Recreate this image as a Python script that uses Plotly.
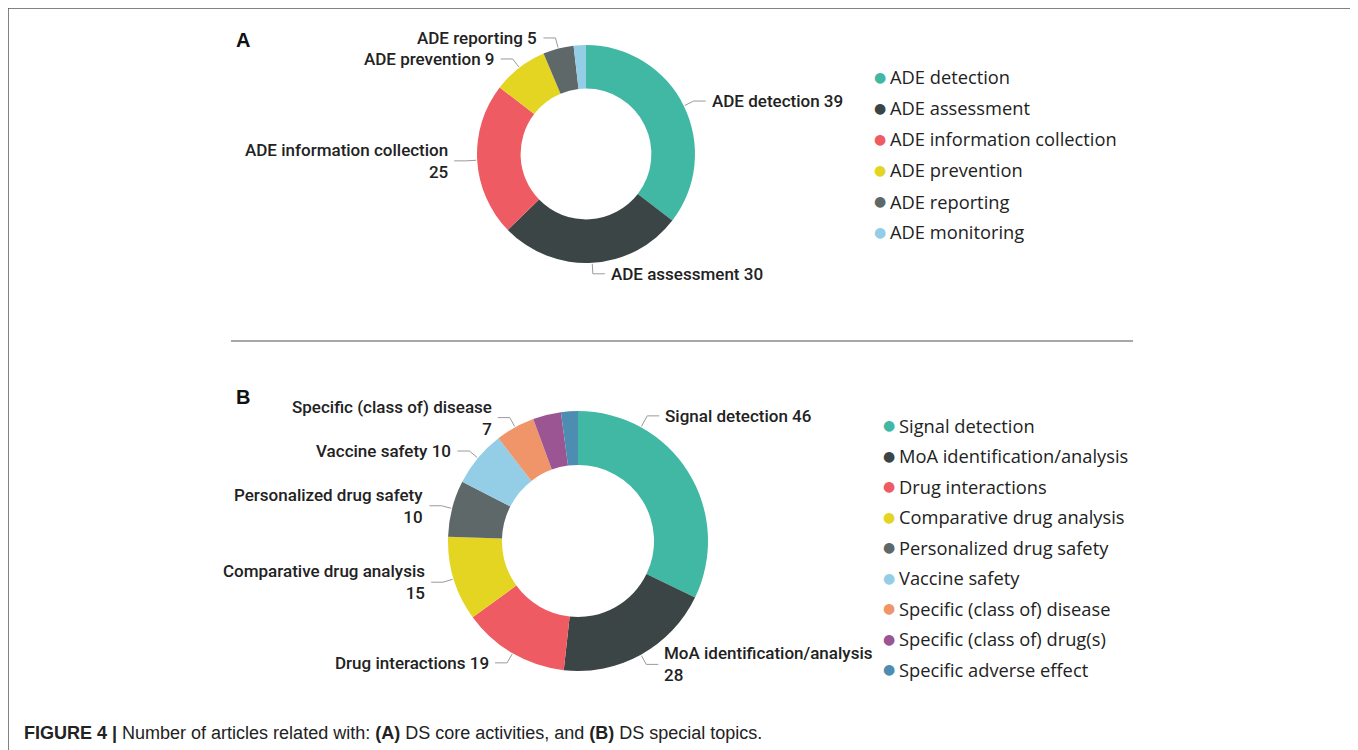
import math
import plotly.graph_objects as go

# ---------------- data ----------------
a_labels = ["ADE detection", "ADE assessment", "ADE information collection",
            "ADE prevention", "ADE reporting", "ADE monitoring"]
a_values = [39, 30, 25, 9, 5, 2]
a_colors = ["#40b8a4", "#3c4546", "#ef5b62", "#e4d523", "#5f6869", "#94cde6"]

b_labels = ["Signal detection", "MoA identification/analysis", "Drug interactions",
            "Comparative drug analysis", "Personalized drug safety", "Vaccine safety",
            "Specific (class of) disease", "Specific (class of) drug(s)",
            "Specific adverse effect"]
b_values = [46, 28, 19, 15, 10, 10, 7, 5, 3]
b_colors = ["#40b8a4", "#3c4546", "#ef5b62", "#e4d523", "#5f6869", "#94cde6",
            "#f0956a", "#9b5593", "#4c8db1"]

caption_bold = "FIGURE 4 |"
caption_text = " Number of articles related with: <b>(A)</b> DS core activities, and <b>(B)</b> DS special topics."

# ---------------- layout helpers ----------------
W, H = 1358, 750
OFF = 8  # page body margin
def px(x):
    return (x - OFF) / W
def py(y):
    return 1 - (y - OFF) / H

wrapped = {"ADE information collection", "Specific (class of) disease",
           "Personalized drug safety", "Comparative drug analysis",
           "MoA identification/analysis"}
anchor_frac = {"Signal detection": 0.25}

LABEL_FONT = dict(family="Roboto, DejaVu Sans", size=17, color="#222222", weight=500)
LEGEND_FONT = dict(family="Open Sans, Noto Sans, DejaVu Sans", size=18.3, color="#222222")

fig = go.Figure()
shapes = []
annotations = []

def add_donut(labels, values, colors, cx, cy, r, hole, min_label, legend_x, legend_y0, legend_dy):
    fig.add_trace(go.Pie(
        labels=labels, values=values, sort=False, direction="clockwise", rotation=0,
        hole=hole, marker=dict(colors=colors, line=dict(width=0)),
        textinfo="none", showlegend=False, hoverinfo="label+value",
        domain=dict(x=[px(cx - r), px(cx + r)], y=[py(cy + r), py(cy - r)]),
    ))
    total = sum(values)
    cum = 0
    for lab, v in zip(labels, values):
        start = cum / total * 360
        frac = anchor_frac.get(lab, 0.5)
        ang = math.radians(start + frac * v / total * 360)
        cum += v
        if v < min_label:
            continue
        s, c = math.sin(ang), math.cos(ang)
        x0, y0 = cx + (r + 1) * s, cy - (r + 1) * c
        ext = 13 if lab in anchor_frac else 11
        x1, y1 = cx + (r + ext) * s, cy - (r + ext) * c
        right = s >= 0
        x2 = x1 + (12 if right else -12)
        shapes.append(dict(type="path", xref="paper", yref="paper",
                           path=f"M {px(x0)},{py(y0)} L {px(x1)},{py(y1)} L {px(x2)},{py(y1)}",
                           line=dict(color="#9a9a9a", width=1)))
        text = f"{lab}<br>{v}" if lab in wrapped else f"{lab} {v}"
        annotations.append(dict(
            x=px(x2 + (4 if right else -4)), y=py(y1), xref="paper", yref="paper",
            text=text, showarrow=False, xanchor="left" if right else "right",
            yanchor="middle", align="left" if right else "right", font=LABEL_FONT))
    # legend
    for i, (lab, col) in enumerate(zip(labels, colors)):
        yy = legend_y0 + i * legend_dy
        annotations.append(dict(x=px(legend_x), y=py(yy), xref="paper", yref="paper",
                                text="●", showarrow=False, xanchor="center", yanchor="middle",
                                font=dict(family="DejaVu Sans", size=14, color=col)))
        annotations.append(dict(x=px(legend_x + 8), y=py(yy), xref="paper", yref="paper",
                                text=lab, showarrow=False, xanchor="left", yanchor="middle",
                                font=LEGEND_FONT))

add_donut(a_labels, a_values, a_colors, 586, 154, 109, 0.6, 5, 880, 77, 31)
add_donut(b_labels, b_values, b_colors, 578, 541, 130, 0.585, 6, 889, 425, 30.5)

# panel letters
for letter, yy in (("A", 40), ("B", 397)):
    annotations.append(dict(x=px(234), y=py(yy), xref="paper", yref="paper", text=f"<b>{letter}</b>",
                            showarrow=False, xanchor="left", yanchor="middle",
                            font=dict(family="Liberation Sans, Arial", size=20, color="#111111")))

# caption
annotations.append(dict(x=px(22), y=py(733), xref="paper", yref="paper",
                        text=f"<b>{caption_bold}</b>{caption_text}",
                        showarrow=False, xanchor="left", yanchor="middle",
                        font=dict(family="Liberation Sans Narrow, Arial Narrow, Liberation Sans", size=18,
                                  color="#222222")))

# frame and separator
shapes.append(dict(type="rect", xref="paper", yref="paper", x0=px(8), x1=px(1352),
                   y0=-0.05, y1=py(8), line=dict(color="#5a5a5a", width=1.5)))
shapes.append(dict(type="line", xref="paper", yref="paper", x0=px(231), x1=px(1133),
                   y0=py(341), y1=py(341), line=dict(color="#8a8a8a", width=1.5)))

fig.update_layout(
    width=W, height=H, margin=dict(l=0, r=0, t=0, b=0),
    paper_bgcolor="white", plot_bgcolor="white",
    shapes=shapes, annotations=annotations, showlegend=False,
)

fig.write_html("out.html")
